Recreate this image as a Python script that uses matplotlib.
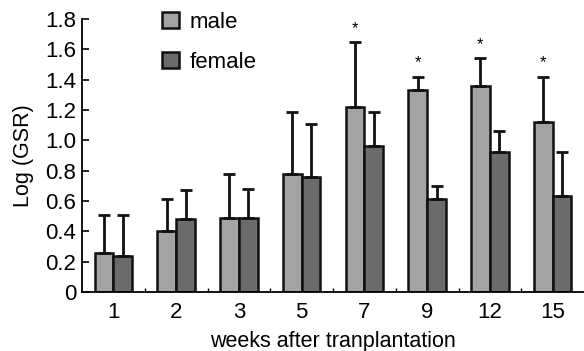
import numpy as np
import matplotlib.pyplot as plt

# data
weeks = ['1', '2', '3', '5', '7', '9', '12', '15']
male = [0.26, 0.40, 0.49, 0.78, 1.22, 1.33, 1.36, 1.12]
male_err = [0.25, 0.21, 0.29, 0.41, 0.43, 0.09, 0.18, 0.30]
female = [0.24, 0.48, 0.49, 0.76, 0.96, 0.61, 0.92, 0.63]
female_err = [0.27, 0.19, 0.19, 0.35, 0.23, 0.09, 0.14, 0.29]
signif = [False, False, False, False, True, True, True, True]

plt.rcParams['font.family'] = ['Liberation Sans', 'DejaVu Sans']

fig = plt.figure(figsize=(5.84, 3.51), dpi=100)
ax = fig.add_axes([82 / 584, 1 - 292 / 351, 1 - 82 / 584, 273 / 351])

x = np.arange(len(weeks))
w = 0.3
err_kw = dict(ecolor='#111111', elinewidth=2, capsize=4.5, capthick=2)
ax.bar(x - w / 2, male, w, color='#a3a3a3', edgecolor='#111111', linewidth=1.8,
       yerr=[np.zeros(len(male)), male_err], error_kw=err_kw, label='male')
ax.bar(x + w / 2, female, w, color='#6b6b6b', edgecolor='#111111', linewidth=1.8,
       yerr=[np.zeros(len(female)), female_err], error_kw=err_kw, label='female')

# significance stars above male bars
for i, s in enumerate(signif):
    if s:
        ax.text(x[i] - w / 2, male[i] + male_err[i] + 0.04, '*', ha='center',
                va='bottom', fontsize=12)

ax.set_xlim(-0.5, len(weeks) - 0.5)
ax.set_ylim(0, 1.8)
ax.set_yticks(np.arange(0, 1.81, 0.2))
ax.set_yticklabels(['0'] + ['%.1f' % v for v in np.arange(0.2, 1.81, 0.2)])
ax.set_xticks(x)
ax.set_xticklabels(weeks)
ax.set_xticks(np.arange(0.5, len(weeks) - 0.5, 1), minor=True)
ax.tick_params(axis='x', which='major', length=0, labelsize=16, pad=7)
ax.tick_params(axis='x', which='minor', direction='in', length=3, width=1)
ax.tick_params(axis='y', direction='in', length=5, width=1.2, labelsize=16, pad=4)

for sp in ['top', 'right']:
    ax.spines[sp].set_visible(False)
ax.spines['left'].set_linewidth(1.3)
ax.spines['bottom'].set_linewidth(1.3)

ax.set_ylabel('Log (GSR)', fontsize=15.5, labelpad=8)
ax.set_xlabel('weeks after tranplantation', fontsize=15.5, labelpad=6)

ax.legend(loc='upper left', bbox_to_anchor=(0.12, 1.1), frameon=False,
          fontsize=16, handlelength=0.75, handleheight=0.75, labelspacing=0.85,
          handletextpad=0.5)

fig.savefig('out.png', dpi=100)
